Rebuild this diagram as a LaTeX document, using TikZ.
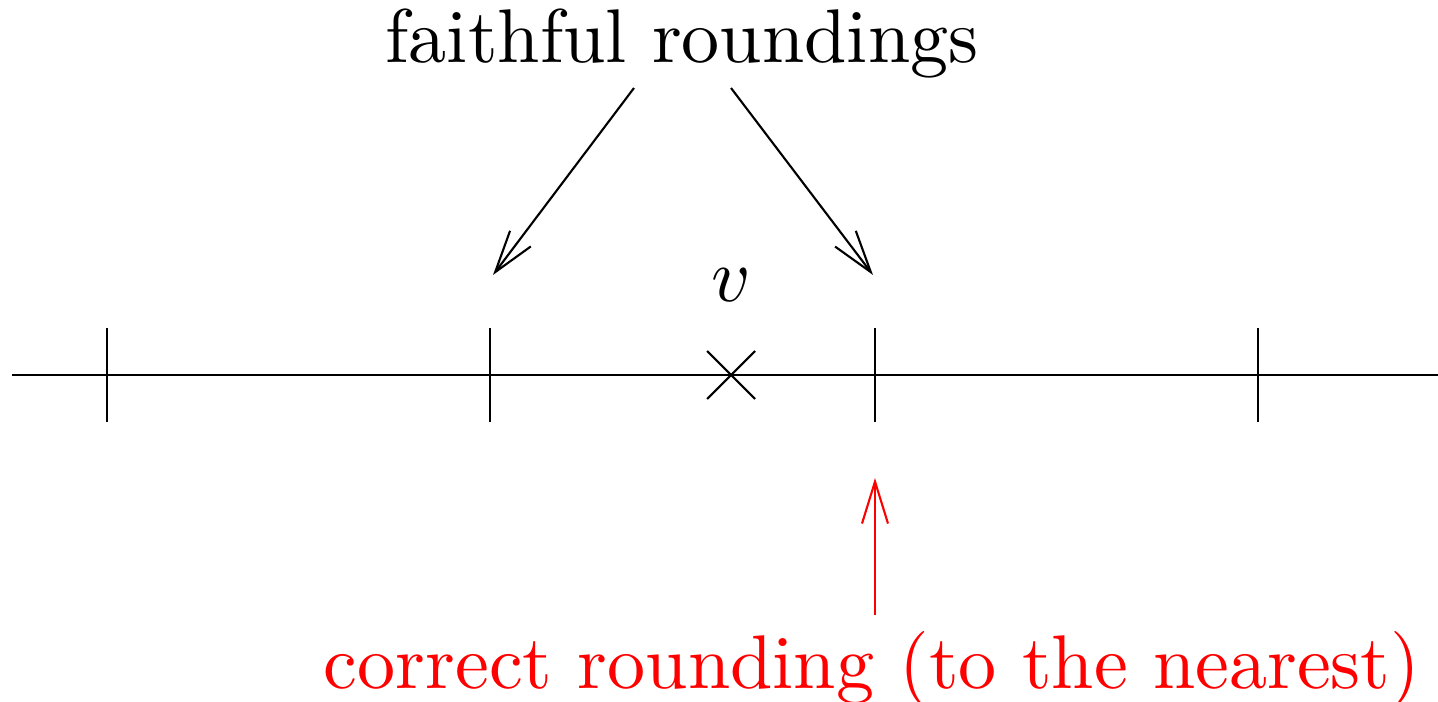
\documentclass[tikz,border=0pt]{standalone}
\usepackage{tikz}
\usetikzlibrary{arrows.meta}

\begin{document}
\begin{tikzpicture}[
    every node/.style={font=\normalsize, scale=2.165, transform shape},
    line/.style={line width=0.6pt},
    tick/.style={line width=0.6pt},
    arrow/.style={-{Straight Barb[length=4.2mm, width=2.6mm, line width=0.6pt]}, line width=0.6pt}
]
\useasboundingbox (0,0) rectangle (14.38,-7.02);

% Number line with ticks
\draw[line] (0.12,-3.75) -- (14.38,-3.75);
\foreach \x in {1.07,4.90,8.75,12.58}
  \draw[tick] (\x,-3.28) -- (\x,-4.22);

% The value v
\draw[line] (7.07,-3.51) -- (7.55,-3.99);
\draw[line] (7.07,-3.99) -- (7.55,-3.51);
\node (v) at (7.31,-2.85) {$v$};

% Faithful roundings
\node[anchor=base] (faithful) at (6.82,-0.63) {faithful roundings};
\coordinate (fs1) at (6.34,-0.88);
\coordinate (fs2) at (7.31,-0.88);
\coordinate (fe1) at (4.93,-2.75);
\coordinate (fe2) at (8.73,-2.75);
\draw[arrow] (fs1) -- (fe1);
\draw[arrow] (fs2) -- (fe2);

% Correct rounding
\node[anchor=base, text=red] (correct) at (8.72,-6.88) {correct rounding (to the nearest)};
\coordinate (cs) at (8.75,-6.15);
\coordinate (ce) at (8.75,-4.78);
\draw[arrow, red] (cs) -- (ce);

\end{tikzpicture}
\end{document}
